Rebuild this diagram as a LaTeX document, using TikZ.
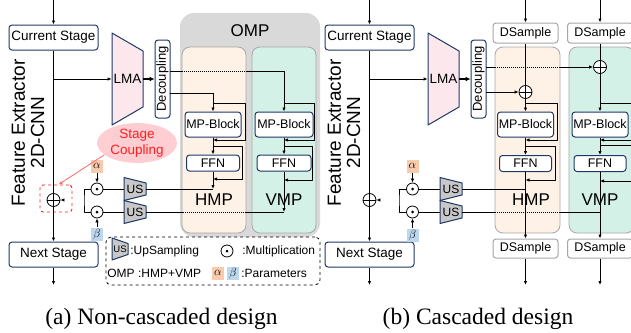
\documentclass[tikz,border=0pt]{standalone}
\usepackage{fontspec}
\setmainfont{Liberation Sans}
\newfontfamily\capfont{Liberation Serif}
\usetikzlibrary{calc,arrows.meta,shapes.geometric}

\definecolor{navy}{RGB}{31,56,100}
\definecolor{lmapink}{RGB}{252,232,236}
\definecolor{usgray}{RGB}{200,200,200}
\definecolor{ompgray}{RGB}{217,217,217}
\definecolor{hmpfill}{RGB}{254,242,230}
\definecolor{vmpfill}{RGB}{212,241,232}
\definecolor{panelline}{RGB}{166,166,166}
\definecolor{alphafill}{RGB}{248,203,173}
\definecolor{betafill}{RGB}{189,215,238}
\definecolor{cplpink}{RGB}{255,206,210}
\definecolor{cplred}{RGB}{255,30,30}

\begin{document}
\begin{tikzpicture}[x=1pt, y=-1pt, line width=0.8pt, line join=round,
  arr/.style={-{Latex[length=4pt,width=3.4pt]}},
  stagebox/.style={draw=navy, line width=1pt, rounded corners=3pt, fill=white,
    minimum width=89pt, minimum height=25pt, inner sep=0pt,
    font=\fontsize{13.5}{15}\selectfont},
  blockbox/.style={draw=navy, line width=1pt, rounded corners=3pt, fill=white,
    minimum width=56pt, minimum height=25pt, inner sep=0pt,
    font=\fontsize{12.5}{14}\selectfont},
  ffnbox/.style={blockbox, minimum width=53pt, minimum height=16pt},
  dsbox/.style={draw=panelline, line width=1pt, rounded corners=3pt, fill=white,
    minimum width=65pt, minimum height=20pt, inner sep=0pt,
    font=\fontsize{12.5}{14}\selectfont},
  decbox/.style={draw=navy, line width=1pt, rounded corners=3pt, fill=white,
    minimum width=15pt, minimum height=78pt, inner sep=0pt,
    font=\fontsize{13}{14}\selectfont},
  panel/.style={draw=panelline, line width=0.8pt, rounded corners=8pt,
    minimum width=64pt, minimum height=186pt},
  panellbl/.style={inner sep=0pt, font=\fontsize{17}{19}\selectfont},
  fetext/.style={rotate=90, inner sep=0pt, font=\fontsize{19}{21}\selectfont},
  trap/.style={draw=navy, line width=1pt},
  traptext/.style={inner sep=0pt, font=\fontsize{12}{13}\selectfont},
  addnode/.style={circle, draw, fill=white, minimum size=13pt, inner sep=0pt,
    path picture={\draw[black, line width=0.8pt]
      ([xshift=-7pt]path picture bounding box.center) -- ([xshift=7pt]path picture bounding box.center)
      ([yshift=-7pt]path picture bounding box.center) -- ([yshift=7pt]path picture bounding box.center);}},
  mulnode/.style={circle, draw, fill=white, minimum size=12pt, inner sep=0pt,
    path picture={\fill[black] (path picture bounding box.center) circle (1.5pt);}},
  parbox/.style={minimum width=12pt, minimum height=13pt, inner sep=0pt,
    font=\fontsize{11.5}{12}\selectfont},
  legtext/.style={anchor=west, inner sep=0pt, font=\fontsize{12}{14}\selectfont},
  dots/.style={dash pattern=on 1pt off 1pt},
  caption/.style={anchor=base, inner sep=0pt, font=\capfont\fontsize{23.5}{26}\selectfont}]

  \useasboundingbox (0,0) rectangle (631,332);
  \clip (0,0) rectangle (631,332);

  %%%%%%%%%%%%%%%%%%%%%%%%%%%%%%%% (a) non-cascaded
  % OMP background and its two branches
  \node[fill=ompgray, rounded corners=14pt, minimum width=140pt, minimum height=224pt] (ompa) at (250,125) {};
  \node[panellbl] (omplbl) at (250,31) {OMP};
  \node[panel, fill=hmpfill] (hmpa) at (214,140) {};
  \node[panel, fill=vmpfill] (vmpa) at (284,140) {};
  \node[panellbl] (hmplbla) at (214,200) {HMP};
  \node[panellbl] (vmplbla) at (284,200) {VMP};

  % backbone
  \node[fetext] (fea) at (18.5,133) {Feature Extractor};
  \node[fetext] (cnna) at (37.5,132.5) {2D-CNN};
  \coordinate (topa) at (53.5,0);
  \node[stagebox] (cura) at (53.5,37.5) {Current Stage};
  \node[stagebox] (nexta) at (53.5,254.5) {Next Stage};
  \coordinate (bota) at (53.5,285);

  % stage coupling call-out
  \node[ellipse, fill=cplpink, text=cplred, align=center, inner sep=0pt,
    minimum width=80pt, minimum height=37pt, font=\fontsize{13.5}{16}\selectfont] (cpla) at (137,143) {Stage\\Coupling};
  \node[draw=cplred, dashed, rounded corners=3pt, line width=0.9pt,
    minimum width=32pt, minimum height=27pt] (cpboxa) at (56,198.5) {};
  \node[addnode] (adda) at (53.5,200) {};

  % LMA (tall side on the left) and decoupling
  \coordinate (lmaa) at (127.5,79);
  \filldraw[trap, fill=lmapink] ($(lmaa)+(-15.5,-46)$) -- ($(lmaa)+(15.5,-28)$)
    -- ($(lmaa)+(15.5,28)$) -- ($(lmaa)+(-15.5,46)$) -- cycle;
  \node[traptext, minimum width=31pt, font=\fontsize{13.5}{15}\selectfont] (lmatxta) at (lmaa) {LMA};
  \node[decbox] (deca) at (162.5,79) {\rotatebox{90}{Decoupling}};
  \coordinate (d1a) at (170,71);   % to VMP
  \coordinate (d2a) at (170,93);   % to HMP

  % HMP / VMP blocks
  \node[blockbox] (mpha) at (213,124.5) {MP-Block};
  \node[ffnbox] (ffnha) at (213,163) {FFN};
  \node[blockbox, minimum width=58pt] (mpva) at (284,124.5) {MP-Block};
  \node[ffnbox, minimum width=54pt] (ffnva) at (284,163) {FFN};

  % upsampling (tall side on the left), weights
  \coordinate (usa1) at (135,189);
  \coordinate (usa2) at (135,212);
  \filldraw[trap, fill=usgray] ($(usa1)+(-11,-11.5)$) -- ($(usa1)+(11,-6)$)
    -- ($(usa1)+(11,6)$) -- ($(usa1)+(-11,11.5)$) -- cycle;
  \filldraw[trap, fill=usgray] ($(usa2)+(-11,-11.5)$) -- ($(usa2)+(11,-6)$)
    -- ($(usa2)+(11,6)$) -- ($(usa2)+(-11,11.5)$) -- cycle;
  \node[traptext, minimum width=22pt] (usa1t) at (usa1) {US};
  \node[traptext, minimum width=22pt] (usa2t) at (usa2) {US};
  \node[mulnode] (mula1) at (97,189) {};
  \node[mulnode] (mula2) at (97,212) {};
  \node[parbox, fill=alphafill] (alpa) at (97,166) {$\alpha$};
  \node[parbox, fill=betafill] (betaa) at (97,234) {$\beta$};
  \coordinate (joina) at (84,200);

  % legend
  \node[draw, dashed, rounded corners=5pt, minimum width=214pt, minimum height=48pt] (lega) at (213,261) {};
  \coordinate (legus) at (120,249);
  \filldraw[trap, fill=usgray] ($(legus)+(-8,-11)$) -- ($(legus)+(8,-5.5)$)
    -- ($(legus)+(8,5.5)$) -- ($(legus)+(-8,11)$) -- cycle;
  \node[traptext, font=\fontsize{9.5}{10}\selectfont] (legust) at (legus) {US};
  \node[legtext] (legustxt) at (130,251) {:UpSampling};
  \node[mulnode] (legmul) at (227,251) {};
  \node[legtext] (legmultxt) at (242,251) {:Multiplication};
  \node[legtext] (legomp) at (107,273) {OMP :HMP+VMP};
  \node[parbox, fill=alphafill] (legal) at (218,273) {$\alpha$};
  \node[parbox, fill=betafill] (legbe) at (233,273) {$\beta$};
  \node[legtext] (legpar) at (241,273) {:Parameters};

  % connectors
  \draw[arr] (topa) -- (cura);
  \draw (cura) -- (adda);
  \draw[arr] (adda) -- (nexta);
  \draw[arr] (nexta) -- (bota);
  \draw[arr] (cura.south |- lmatxta) -- (lmatxta.west);
  \draw[-{Latex[length=5pt,width=5pt]}, line width=1.3pt] (lmatxta.east) -- (deca);
  \draw[arr] (d2a) -| (mpha);
  \draw (d1a) -- (d1a -| hmpa.west);
  \draw[dots] (d1a -| hmpa.west) -- (d1a -| hmpa.east);
  \draw[arr] (d1a -| hmpa.east) -| (mpva);
  % HMP skips and output
  \coordinate (s1ha) at (213,103);  \coordinate (r1ha) at (213,140);
  \coordinate (s2ha) at (213,146);  \coordinate (r2ha) at (213,179);
  \coordinate (oha) at (213,189);
  \draw[arr] (s1ha) -- ++(32,0) |- (r1ha);
  \draw[arr] (mpha) -- (ffnha);
  \draw[arr] (s2ha) -- ++(29,0) |- (r2ha);
  \draw[arr] (ffnha) -- (oha);
  \draw (oha) -- (usa1t.east);
  % VMP skips and output
  \coordinate (s1va) at (284,103);  \coordinate (r1va) at (284,140);
  \coordinate (s2va) at (284,146);  \coordinate (r2va) at (284,180);
  \coordinate (ova) at (284,212);
  \draw[arr] (s1va) -- ++(30,0) |- (r1va);
  \draw[arr] (mpva) -- (ffnva);
  \draw[arr] (s2va) -- ++(28,0) |- (r2va);
  \draw[arr] (ffnva) -- (ova);
  \draw (ova) -- (ova -| hmpa.east);
  \draw[dots] (ova -| hmpa.east) -- (ova -| hmpa.west);
  \draw (ova -| hmpa.west) -- (usa2t.east);
  % weighting and fusion
  \draw (usa1t.west) -- (mula1);
  \draw (usa2t.west) -- (mula2);
  \draw[arr] (alpa) -- (mula1);
  \draw[arr] (betaa) -- (mula2);
  \draw (mula1.west) -| (joina) |- (mula2.west);
  \draw[arr, double, double distance=1.4pt, line width=0.7pt] (joina) -- (adda);
  \draw[arr, draw=cplred!65, fill=cplred!65] (cpla.200) -- (cpboxa.80);

  \node[caption] (capa) at (161.5,324) {(a) Non-cascaded design};

  %%%%%%%%%%%%%%%%%%%%%%%%%%%%%%%% (b) cascaded
  % HMP / VMP branches
  \node[panel, fill=hmpfill, minimum width=65pt] (hmpb) at (527.5,140) {};
  \node[panel, fill=vmpfill, minimum width=65pt] (vmpb) at (601.5,140) {};
  \node[panellbl] (hmplblb) at (531,200) {HMP};
  \node[panellbl] (vmplblb) at (600,200) {VMP};

  % backbone
  \node[fetext] (feb) at (334.5,133) {Feature Extractor};
  \node[fetext] (cnnb) at (353.5,132.5) {2D-CNN};
  \coordinate (topb) at (369.5,0);
  \node[stagebox] (curb) at (369.5,37.5) {Current Stage};
  \node[addnode] (addb) at (369.5,200) {};
  \node[stagebox] (nextb) at (369.5,254.5) {Next Stage};
  \coordinate (botb) at (369.5,285);

  % LMA and decoupling
  \coordinate (lmab) at (443.5,79);
  \filldraw[trap, fill=lmapink] ($(lmab)+(-15.5,-46)$) -- ($(lmab)+(15.5,-28)$)
    -- ($(lmab)+(15.5,28)$) -- ($(lmab)+(-15.5,46)$) -- cycle;
  \node[traptext, minimum width=31pt, font=\fontsize{13.5}{15}\selectfont] (lmatxtb) at (lmab) {LMA};
  \node[decbox] (decb) at (478.5,79) {\rotatebox{90}{Decoupling}};
  \coordinate (d1b) at (486,67);   % to VMP
  \coordinate (d2b) at (486,92);   % to HMP

  % down-sampling in and out
  \coordinate (tophb) at (525.5,0);
  \coordinate (topvb) at (600,0);
  \node[dsbox] (dsht) at (525.5,33) {DSample};
  \node[dsbox] (dsvt) at (600,33) {DSample};
  \node[dsbox, minimum height=19pt] (dshb) at (525.5,248.5) {DSample};
  \node[dsbox, minimum height=19pt] (dsvb) at (600,248.5) {DSample};
  \coordinate (bothb) at (525.5,285);
  \coordinate (botvb) at (600,285);

  % blocks
  \node[addnode] (addhb) at (525.5,92) {};
  \node[addnode] (addvb) at (600,67) {};
  \node[blockbox] (mphb) at (525.5,124.5) {MP-Block};
  \node[ffnbox, minimum width=52pt] (ffnhb) at (525.5,163.5) {FFN};
  \node[blockbox] (mpvb) at (600,124.5) {MP-Block};
  \node[ffnbox, minimum width=52pt] (ffnvb) at (600,163.5) {FFN};

  % upsampling, weights
  \coordinate (usb1) at (451,189);
  \coordinate (usb2) at (451,212);
  \filldraw[trap, fill=usgray] ($(usb1)+(-11,-11.5)$) -- ($(usb1)+(11,-6)$)
    -- ($(usb1)+(11,6)$) -- ($(usb1)+(-11,11.5)$) -- cycle;
  \filldraw[trap, fill=usgray] ($(usb2)+(-11,-11.5)$) -- ($(usb2)+(11,-6)$)
    -- ($(usb2)+(11,6)$) -- ($(usb2)+(-11,11.5)$) -- cycle;
  \node[traptext, minimum width=22pt] (usb1t) at (usb1) {US};
  \node[traptext, minimum width=22pt] (usb2t) at (usb2) {US};
  \node[mulnode] (mulb1) at (412.5,189) {};
  \node[mulnode] (mulb2) at (412.5,212) {};
  \node[parbox, fill=alphafill] (alpb) at (412.5,166) {$\alpha$};
  \node[parbox, fill=betafill] (betab) at (412.5,235) {$\beta$};
  \coordinate (joinb) at (399,200);

  % connectors
  \draw[arr] (topb) -- (curb);
  \draw (curb) -- (addb);
  \draw[arr] (addb) -- (nextb);
  \draw[arr] (nextb) -- (botb);
  \draw[arr] (curb.south |- lmatxtb) -- (lmatxtb.west);
  \draw[-{Latex[length=5pt,width=5pt]}, line width=1.3pt] (lmatxtb.east) -- (decb);
  \draw[arr] (tophb) -- (dsht);
  \draw[arr] (topvb) -- (dsvt);
  \draw (dsht) -- (addhb);
  \draw (dsvt) -- (addvb);
  \draw[arr] (d2b) -- (addhb);
  \draw (d1b) -- (d1b -| hmpb.west);
  \draw[dots] (d1b -| hmpb.west) -- (d1b -| hmpb.east);
  \draw[arr] (d1b -| hmpb.east) -- (addvb);
  % HMP skips and output
  \coordinate (s1hb) at (525.5,103);  \coordinate (r1hb) at (525.5,140);
  \coordinate (s2hb) at (525.5,146);  \coordinate (r2hb) at (525.5,180);
  \coordinate (ohb) at (525.5,189);
  \draw[arr] (addhb) -- (mphb);
  \draw[arr] (s1hb) -- ++(32,0) |- (r1hb);
  \draw[arr] (mphb) -- (ffnhb);
  \draw[arr] (s2hb) -- ++(29.5,0) |- (r2hb);
  \draw[arr] (ffnhb) -- (dshb);
  \draw[arr] (dshb) -- (bothb);
  \draw (usb1t.east) -- (ohb);
  % VMP skips and output
  \coordinate (s1vb) at (600,103);  \coordinate (r1vb) at (600,140);
  \coordinate (s2vb) at (600,145);  \coordinate (r2vb) at (600,181);
  \coordinate (ovb) at (600,212);
  \draw[arr] (addvb) -- (mpvb);
  \draw[arr] (s1vb) -- ++(45,0) |- (r1vb);
  \draw[arr] (mpvb) -- (ffnvb);
  \draw[arr] (s2vb) -- ++(40,0) |- (r2vb);
  \draw[arr] (ffnvb) -- (dsvb);
  \draw[arr] (dsvb) -- (botvb);
  \draw (ovb) -- (ovb -| hmpb.east);
  \draw[dots] (ovb -| hmpb.east) -- (ovb -| hmpb.west);
  \draw (ovb -| hmpb.west) -- (usb2t.east);
  % weighting and fusion
  \draw (usb1t.west) -- (mulb1);
  \draw (usb2t.west) -- (mulb2);
  \draw[arr] (alpb) -- (mulb1);
  \draw[arr] (betab) -- (mulb2);
  \draw (mulb1.west) -| (joinb) |- (mulb2.west);
  \draw[arr, double, double distance=1.4pt, line width=0.7pt] (joinb) -- (addb);

  \node[caption] (capb) at (478,324) {(b) Cascaded design};
\end{tikzpicture}
\end{document}
